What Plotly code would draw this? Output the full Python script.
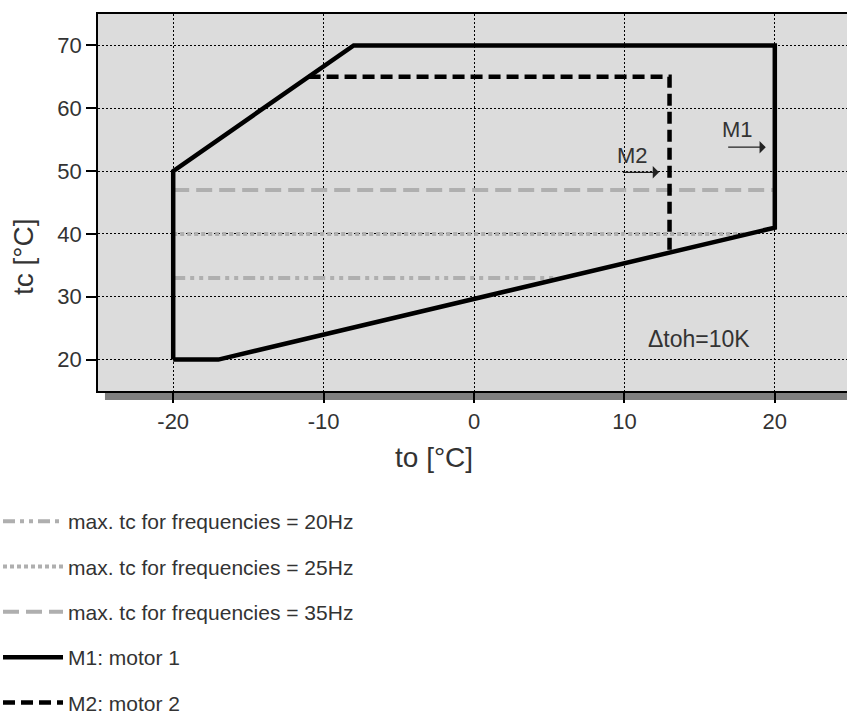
import plotly.graph_objects as go

# ---- data ----
m1_to = [-20, -17, 20, 20, -8, -20, -20]
m1_tc = [20, 20, 41, 70, 70, 50, 20]
m2_to = [-11, 13, 13]
m2_tc = [65, 65, 37]
f20_to = [-20, 5.5]
f20_tc = [33, 33]
f25_to = [-20, 18.2]
f25_tc = [40, 40]
f35_to = [-20, 20]
f35_tc = [47, 47]
x_ticks = [-20, -10, 0, 10, 20]
x_ticklabels = ["-20", "-10", "0", "10", "20"]
y_ticks = [20, 30, 40, 50, 60, 70]
y_ticklabels = ["20", "30", "40", "50", "60", "70"]

GRAY = "#afafaf"
TXT = "#333333"
FONT = "Liberation Sans, Arial, sans-serif"

fig = go.Figure()
fig.add_trace(go.Scatter(x=f20_to, y=f20_tc, mode="lines", name="max. tc for frequencies = 20Hz",
                         line=dict(color=GRAY, width=4, dash="12px,5px,4px,5px,4px,5px"), legendgroup="a"))
fig.add_trace(go.Scatter(x=f25_to, y=f25_tc, mode="lines", name="max. tc for frequencies = 25Hz",
                         line=dict(color=GRAY, width=4, dash="4px,3px"), legendgroup="b"))
fig.add_trace(go.Scatter(x=f35_to, y=f35_tc, mode="lines", name="max. tc for frequencies = 35Hz",
                         line=dict(color=GRAY, width=4, dash="16px,7px"), legendgroup="c"))
fig.add_trace(go.Scatter(x=m1_to, y=m1_tc, mode="lines", name="M1: motor 1",
                         line=dict(color="black", width=4.5), legendgroup="d"))
fig.add_trace(go.Scatter(x=m2_to, y=m2_tc, mode="lines", name="M2: motor 2",
                         line=dict(color="black", width=4.5, dash="12px,6px"), legendgroup="e"))

# annotations
fig.add_annotation(x=19.4, y=53.8, ax=16.8, ay=53.8, axref="x", ayref="y", xref="x", yref="y",
                   text="", showarrow=True, arrowhead=1, arrowsize=1.6, arrowwidth=1.3, arrowcolor="#222")
fig.add_annotation(x=12.3, y=49.8, ax=9.8, ay=49.8, axref="x", ayref="y", xref="x", yref="y",
                   text="", showarrow=True, arrowhead=1, arrowsize=1.6, arrowwidth=1.3, arrowcolor="#222")
fig.add_annotation(x=17.5, y=56.6, text="M1", showarrow=False, font=dict(family=FONT, size=22, color=TXT))
fig.add_annotation(x=10.56, y=52.5, text="M2", showarrow=False, font=dict(family=FONT, size=22, color=TXT))
fig.add_annotation(x=14.95, y=23.3, text="Δtoh=10K", showarrow=False, font=dict(family=FONT, size=23, color=TXT))

# axis titles
fig.add_annotation(xref="paper", yref="paper", x=0.4486, y=-0.1777, xanchor="center", yanchor="middle",
                   text="to [°C]", showarrow=False, font=dict(family=FONT, size=28, color=TXT))
fig.add_annotation(xref="paper", yref="paper", x=-0.1001, y=0.3554, xanchor="center", yanchor="middle",
                   text="tc [°C]", showarrow=False, textangle=-90, font=dict(family=FONT, size=28, color=TXT))

# shadow under plot area
fig.add_shape(type="rect", xref="paper", yref="paper", x0=0.0093, x1=1.02, y0=-0.024, y1=0,
              fillcolor="#7f7f7f", line=dict(width=0), layer="below")

fig.update_layout(
    width=847, height=717,
    margin=dict(l=98, r=0, t=14, b=326, autoexpand=False),
    paper_bgcolor="white", plot_bgcolor="#dcdcdc",
    font=dict(family=FONT, color=TXT),
    showlegend=True,
    legend=dict(x=-0.1335, y=-0.292, xanchor="left", yanchor="top", tracegroupgap=15,
                font=dict(family=FONT, size=21, color=TXT), itemwidth=60,
                bgcolor="rgba(0,0,0,0)"),
    xaxis=dict(range=[-25, 24.8], tickvals=x_ticks, ticktext=x_ticklabels, ticks="outside", ticklen=10,
               tickwidth=1.5, tickcolor="black", showline=True, linecolor="black", linewidth=1.5, mirror=True,
               showgrid=True, gridcolor="black", griddash="2px,2px", gridwidth=1, zeroline=False,
               tickfont=dict(size=22, color=TXT)),
    yaxis=dict(range=[15, 75], tickvals=y_ticks, ticktext=y_ticklabels, ticks="outside", ticklen=10,
               tickwidth=1.5, tickcolor="black", showline=True, linecolor="black", linewidth=1.5, mirror=False,
               showgrid=True, gridcolor="black", griddash="2px,2px", gridwidth=1, zeroline=False,
               tickfont=dict(size=22, color=TXT)),
)

fig.write_html("out.html")
